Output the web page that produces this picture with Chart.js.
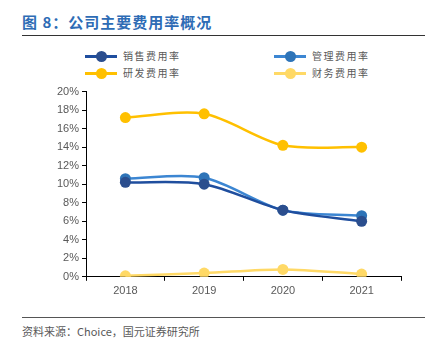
<!DOCTYPE html>
<html>
<head>
<meta charset="utf-8">
<script src="https://cdn.jsdelivr.net/npm/chart.js@4/dist/chart.umd.min.js"></script>
<style>
  body { margin: 0; background: #fff; width: 430px; height: 352px; position: relative; overflow: hidden;
    font-family: "Noto Sans CJK SC", "Liberation Sans", sans-serif; }
  #title { position: absolute; left: 22px; top: 11px; font-size: 15px; font-weight: bold; color: #2E6CB5; letter-spacing: 1px; }
  .rule { position: absolute; left: 22px; width: 403px; height: 1px; background: #333; }
  #source { position: absolute; left: 22px; top: 323px; font-size: 11px; color: #595959; }
  .leg { position: absolute; font-size: 10px; color: #595959; letter-spacing: 1.5px; height: 14px; line-height: 14px; }
  .leg .ln { position: absolute; left: 0; top: 6px; width: 32px; height: 3px; }
  .leg .dot { position: absolute; left: 11px; top: 2px; width: 11px; height: 11px; border-radius: 50%; }
  .leg span { position: absolute; left: 38px; white-space: nowrap; }
  #wrap { position: absolute; left: 30px; top: 82px; width: 385px; height: 220px; }
</style>
</head>
<body>
<div id="title">图 8：公司主要费用率概况</div>
<div class="rule" style="top:35px"></div>
<div id="legend"></div>
<div id="wrap"><canvas id="cost-chart"></canvas></div>
<div class="rule" style="top:317px; background:#555"></div>
<div id="source">资料来源：Choice，国元证券研究所</div>
<script>
const years = ["2018", "2019", "2020", "2021"];
const seriesNames = ["销售费用率", "管理费用率", "研发费用率", "财务费用率"];
const salesRate = [10.2, 10.0, 7.2, 6.0];
const adminRate = [10.6, 10.7, 7.2, 6.6];
const rdRate = [17.2, 17.6, 14.2, 14.0];
const financeRate = [0.1, 0.4, 0.8, 0.3];
const yTicks = [0, 2, 4, 6, 8, 10, 12, 14, 16, 18, 20];

const lineColors = ["#1F4E9E", "#3C86D2", "#FFC000", "#FFD966"];
const pointColors = ["#2B4E8E", "#2E74B8", "#FFC000", "#FFD966"];
const legendPos = [[85, 49], [274, 49], [85, 66], [274, 66]];

// legend
const legendEl = document.getElementById("legend");
seriesNames.forEach((name, i) => {
  const d = document.createElement("div");
  d.className = "leg";
  d.style.left = legendPos[i][0] + "px";
  d.style.top = legendPos[i][1] + "px";
  d.innerHTML = '<div class="ln" style="background:' + lineColors[i] + '"></div>' +
    '<div class="dot" style="background:' + pointColors[i] + '"></div><span>' + name + "</span>";
  legendEl.appendChild(d);
});

function makeSet(label, data, i) {
  return {
    label: label,
    data: data,
    borderColor: lineColors[i],
    backgroundColor: pointColors[i],
    pointBackgroundColor: pointColors[i],
    pointBorderWidth: 0,
    pointRadius: 5.5,
    borderWidth: 2.5,
    tension: 0.3,
  };
}

let costChartData = {
  type: "line",
  data: {
    labels: years,
    datasets: [
      makeSet(seriesNames[3], financeRate, 3),
      makeSet(seriesNames[2], rdRate, 2),
      makeSet(seriesNames[0], salesRate, 0),
      makeSet(seriesNames[1], adminRate, 1),
    ],
  },
  options: {
    responsive: true,
    maintainAspectRatio: false,
    animation: false,
    layout: { padding: { top: 4, right: 14, bottom: 0, left: 24 } },
    plugins: {
      legend: false,
      tooltip: { enabled: false },
    },
    scales: {
      x: {
        offset: true,
        grid: { offset: true, drawOnChartArea: false, drawTicks: true, tickLength: 4, color: "#000" },
        border: { display: true, color: "#000", width: 1 },
        ticks: { color: "#595959", font: { family: "Liberation Sans", size: 11 }, padding: 4 },
      },
      y: {
        min: 0,
        max: 20,
        afterBuildTicks: (axis) => {
          axis.ticks = yTicks.map((v) => ({ value: v }));
        },
        grid: { drawOnChartArea: false, drawTicks: true, tickLength: 4, color: "#000" },
        border: { display: true, color: "#000", width: 1 },
        ticks: {
          color: "#595959",
          font: { family: "Liberation Sans", size: 11 },
          padding: 3,
          callback: (v) => v + "%",
        },
      },
    },
  },
};

var costChart = new Chart(document.getElementById("cost-chart"), costChartData);
</script>
</body>
</html>
